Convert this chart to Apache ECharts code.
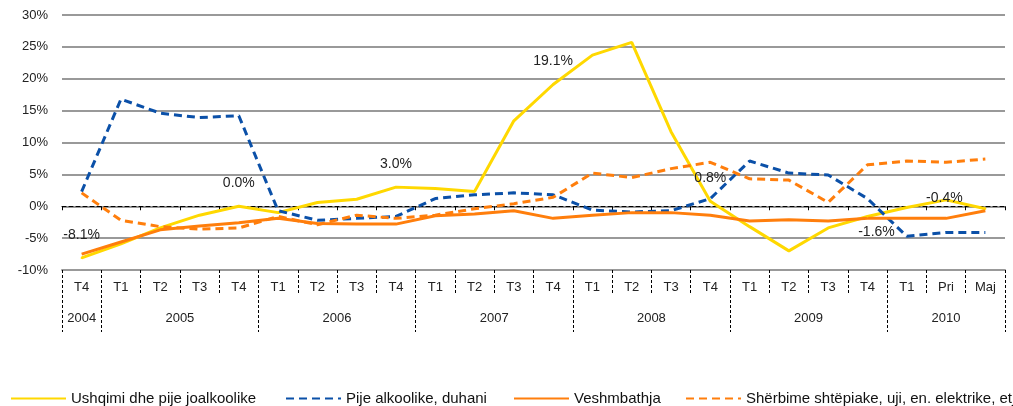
<!DOCTYPE html>
<html>
<head>
<meta charset="utf-8">
<title>Inflacioni sipas grupeve</title>
<script src="https://cdn.jsdelivr.net/npm/echarts@6/dist/echarts.min.js"></script>
<style>
  html, body { margin: 0; padding: 0; background: #fff; }
  #chart { width: 1013px; height: 406px; }
</style>
</head>
<body>
<div id="chart"></div>
<script>
// periods on the x axis, and the years they belong to
const periods = ['T4', 'T1', 'T2', 'T3', 'T4', 'T1', 'T2', 'T3', 'T4', 'T1', 'T2', 'T3', 'T4',
  'T1', 'T2', 'T3', 'T4', 'T1', 'T2', 'T3', 'T4', 'T1', 'Pri', 'Maj'];
const yearNames = ['2004', '2005', '2006', '2007', '2008', '2009', '2010'];
const yearLengths = [1, 4, 4, 4, 4, 4, 3];

// annual change, %
const food = [-8.1, -5.9, -3.4, -1.4, 0.0, -1.0, 0.6, 1.1, 3.0, 2.8, 2.3, 13.4, 19.1,
  23.7, 25.7, 11.7, 0.8, -3.2, -7.0, -3.4, -1.6, -0.2, 1.0, -0.4];
const alcohol = [2.3, 16.8, 14.6, 13.9, 14.2, -0.7, -2.2, -1.9, -1.6, 1.2, 1.8, 2.1, 1.8,
  -0.6, -0.9, -0.7, 1.2, 7.1, 5.2, 4.9, 1.2, -4.7, -4.1, -4.1];
const clothing = [-7.5, -5.6, -3.7, -3.1, -2.6, -1.9, -2.7, -2.8, -2.8, -1.5, -1.2, -0.7, -1.9,
  -1.4, -1.0, -1.0, -1.4, -2.3, -2.1, -2.3, -1.9, -1.9, -1.9, -0.7];
const housing = [2.1, -2.2, -3.2, -3.6, -3.4, -1.6, -2.9, -1.4, -1.9, -1.4, -0.4, 0.4, 1.4,
  5.2, 4.5, 5.9, 6.9, 4.3, 4.1, 0.6, 6.5, 7.1, 6.9, 7.4];

// food points that get a value label
const foodLabelIdx = [0, 4, 8, 12, 16, 20, 23];

const seriesNames = ['Ushqimi dhe pije joalkoolike', 'Pije alkoolike, duhani',
  'Veshmbathja', 'Shërbime shtëpiake, uji, en. elektrike, etj'];

const FONT = 'Liberation Sans, Arial, sans-serif';
const YELLOW = '#FFD800';
const BLUE = '#0B50A8';
const ORANGE = '#FF7E0C';

// year boundaries and middles, counted in periods
const yearEdges = [0];
yearLengths.forEach((n, i) => yearEdges.push(yearEdges[i] + n));
const yearMids = yearLengths.map((n, i) => yearEdges[i] + n / 2);

// where each food label sits relative to its point
const labelPlace = {
  20: { position: 'bottom', distance: 8, offset: [9, 0] },
  23: { position: 'top', distance: 15, offset: [-41, 12] }
};

const foodData = food.map((v, i) => {
  if (!foodLabelIdx.includes(i)) return v;
  const place = labelPlace[i] || { position: 'top', distance: 15, offset: [0, 0] };
  return {
    value: v,
    symbol: 'circle',
    symbolSize: 2,
    label: {
      show: true,
      position: place.position,
      distance: place.distance,
      offset: place.offset,
      color: '#222',
      fontSize: 14,
      fontFamily: FONT,
      formatter: (p) => p.value.toFixed(1) + '%'
    }
  };
});

const lineSeries = (name, data, color, dashed) => ({
  name,
  type: 'line',
  data,
  symbol: 'none',
  showSymbol: true,
  itemStyle: { color },
  lineStyle: { color, width: 3, type: dashed ? [8, 5] : 'solid' },
  emphasis: { disabled: true },
  animation: false
});

const legendAt = (name, left) => ({
  data: [name],
  left,
  top: 386,
  itemWidth: 55,
  itemHeight: 14,
  itemStyle: { color: 'transparent', borderColor: 'transparent', borderWidth: 0 },
  textStyle: { fontSize: 15, fontFamily: FONT, color: '#111' },
  selectedMode: false
});

const chart = echarts.init(document.getElementById('chart'));
chart.setOption({
  backgroundColor: '#fff',
  animation: false,
  grid: { left: 62, right: 8, top: 15, bottom: 136 },
  legend: [
    legendAt(seriesNames[0], 5),
    legendAt(seriesNames[1], 280),
    legendAt(seriesNames[2], 508),
    legendAt(seriesNames[3], 680)
  ],
  xAxis: [
    {
      type: 'category',
      position: 'bottom',
      data: periods,
      boundaryGap: true,
      axisLine: { onZero: false, lineStyle: { color: '#999', width: 2 } },
      axisTick: { show: true, interval: 0, length: 25, lineStyle: { color: '#000', type: [3, 2] } },
      axisLabel: { interval: 0, margin: 11, fontSize: 13, fontFamily: FONT, color: '#222' },
      splitLine: { show: false }
    },
    {
      type: 'value',
      position: 'bottom',
      min: 0,
      max: periods.length,
      axisLine: { show: false, onZero: false },
      splitLine: { show: false },
      axisTick: {
        show: true,
        customValues: yearEdges,
        length: 62,
        lineStyle: { color: '#000', type: [3, 2] }
      },
      axisLabel: {
        customValues: yearMids,
        margin: 42,
        fontSize: 13,
        fontFamily: FONT,
        color: '#222',
        formatter: (v) => yearNames[yearMids.indexOf(v)]
      }
    },
    {
      type: 'category',
      position: 'bottom',
      data: periods,
      boundaryGap: true,
      axisLine: { show: true, onZero: true, lineStyle: { color: '#000', width: 1, type: [4, 3] } },
      axisTick: { show: true, interval: 0, length: 4, lineStyle: { color: '#000' } },
      axisLabel: { show: false },
      splitLine: { show: false }
    }
  ],
  yAxis: {
    type: 'value',
    min: -10,
    max: 30,
    interval: 5,
    axisLine: { show: false },
    axisTick: { show: false },
    axisLabel: { formatter: '{value}%', margin: 14, fontSize: 13, fontFamily: FONT, color: '#222' },
    splitLine: { lineStyle: { color: '#999', width: 2 } }
  },
  series: [
    lineSeries(seriesNames[0], foodData, YELLOW, false),
    lineSeries(seriesNames[1], alcohol, BLUE, true),
    lineSeries(seriesNames[2], clothing, ORANGE, false),
    lineSeries(seriesNames[3], housing, ORANGE, true)
  ]
});
</script>
</body>
</html>
